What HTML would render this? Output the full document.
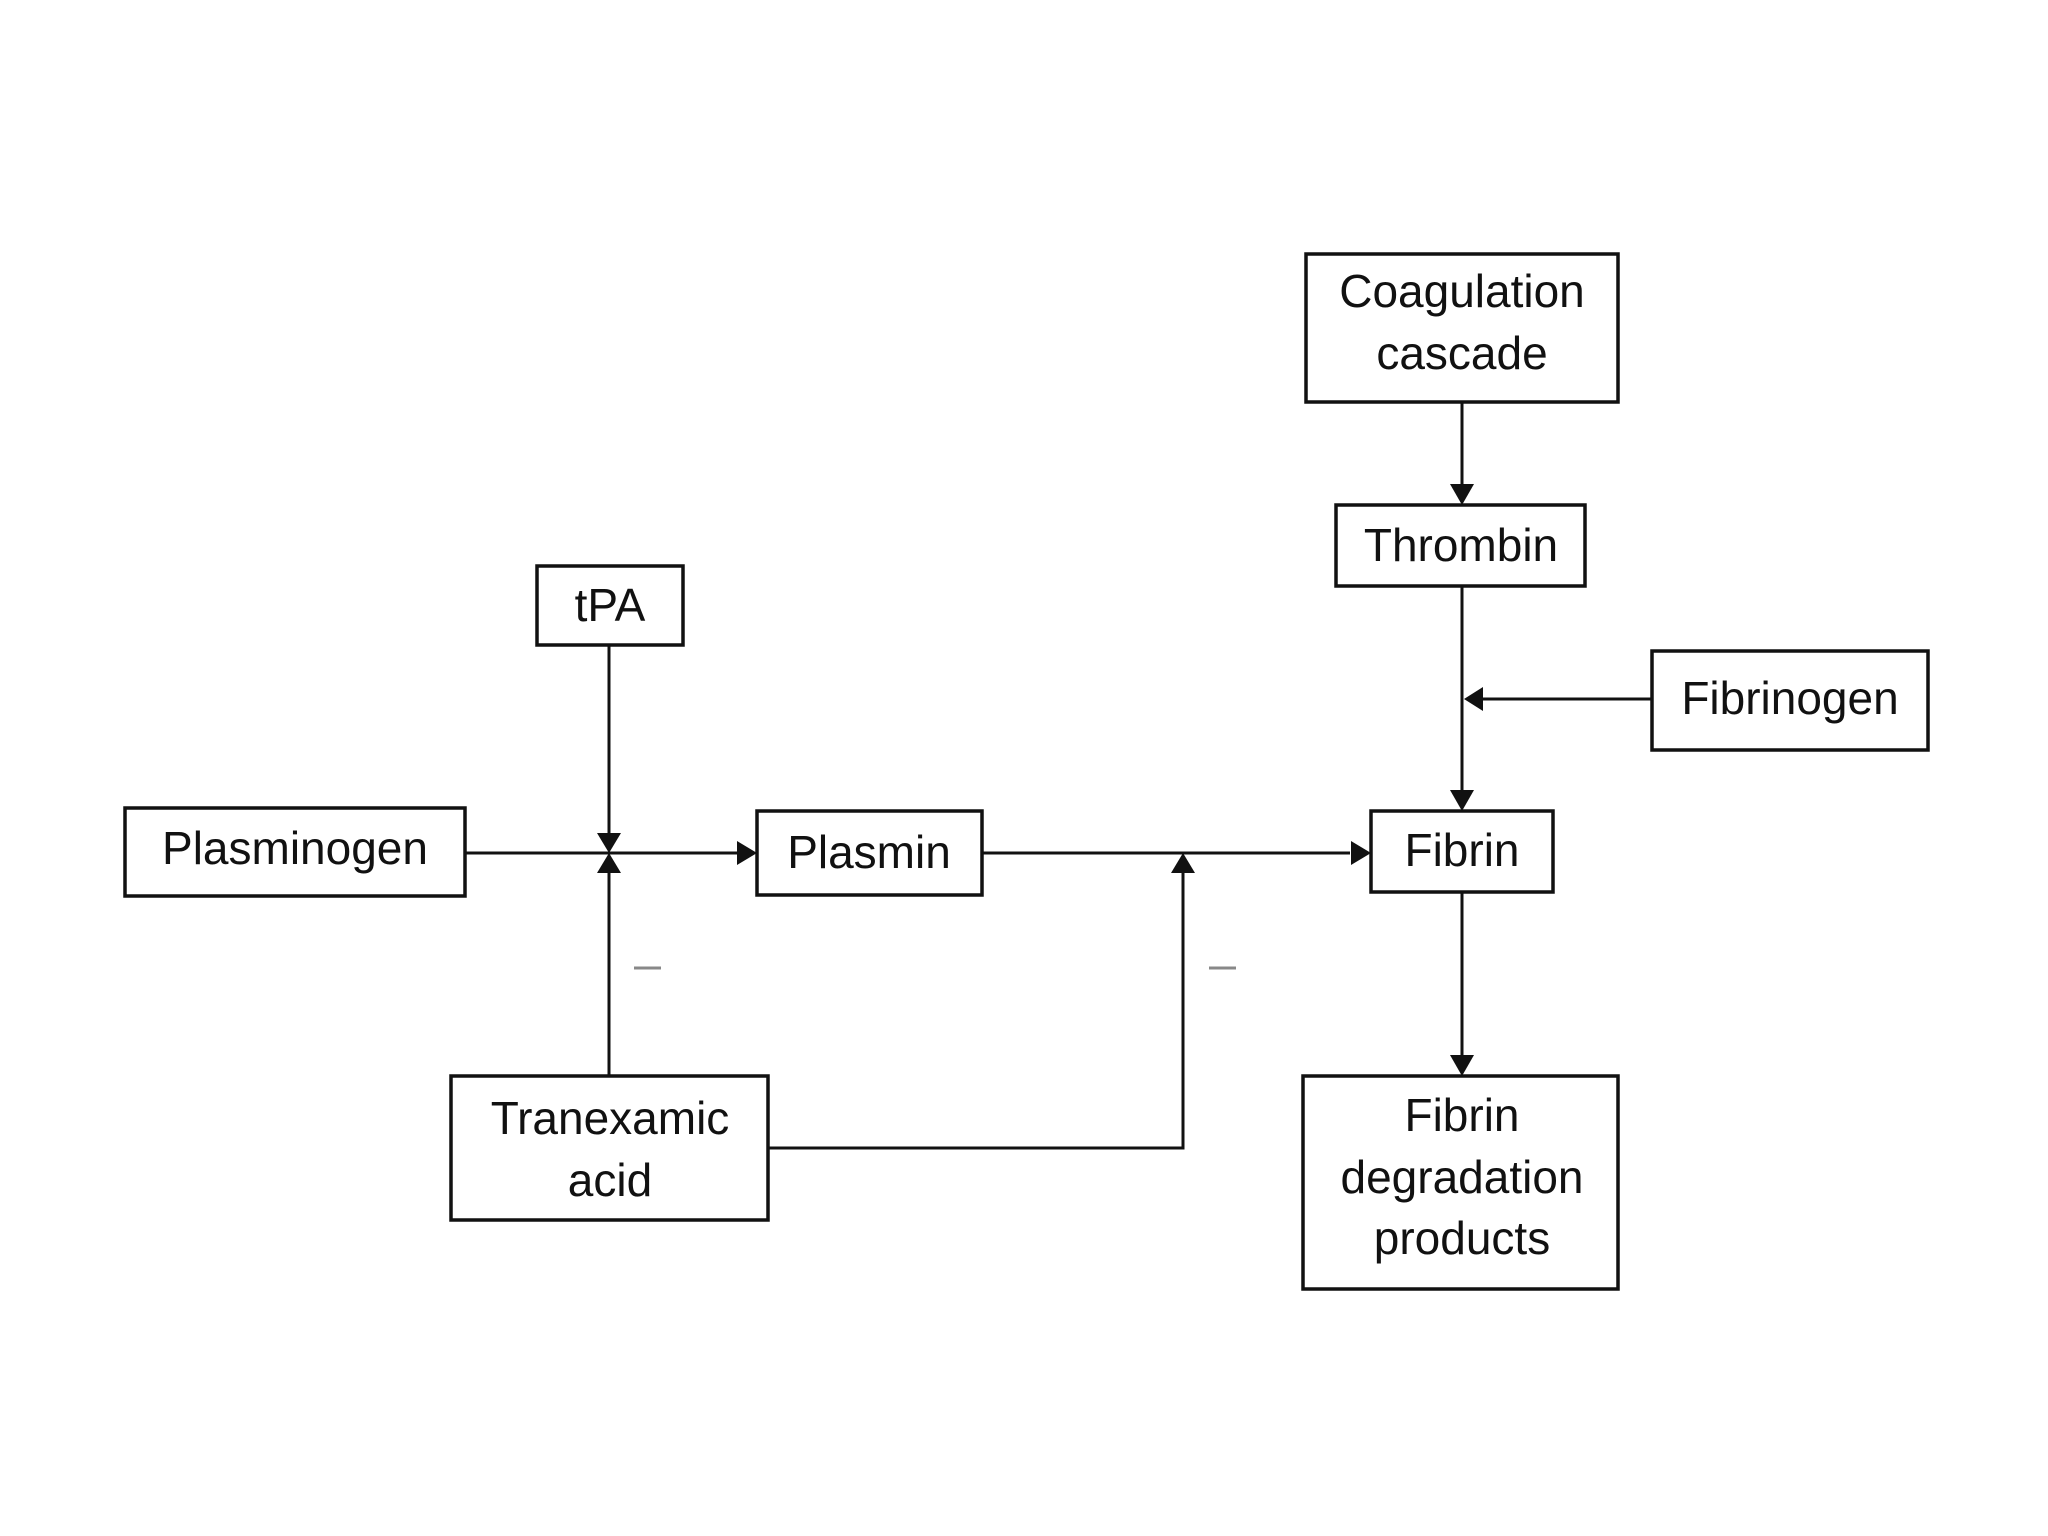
<!DOCTYPE html>
<html><head><meta charset="utf-8"><style>
html,body{margin:0;padding:0;background:#fff;}
svg{display:block}
text{font-family:"Liberation Sans",sans-serif;font-size:46px;fill:#111;text-anchor:middle;}
</style></head><body>
<svg width="2048" height="1536" viewBox="0 0 2048 1536" xmlns="http://www.w3.org/2000/svg">
<defs>
<marker id="a" markerWidth="8" markerHeight="8" refX="7" refY="4" orient="auto" markerUnits="userSpaceOnUse" viewBox="0 0 8 8"></marker>
</defs>
<g fill="none" stroke="#111" stroke-width="3.5">
<rect x="1306" y="254" width="312" height="148"/>
<rect x="1336" y="505" width="249" height="81"/>
<rect x="1652" y="651" width="276" height="99"/>
<rect x="537" y="566" width="146" height="79"/>
<rect x="125" y="808" width="340" height="88"/>
<rect x="757" y="811" width="225" height="84"/>
<rect x="1371" y="811" width="182" height="81"/>
<rect x="451" y="1076" width="317" height="144"/>
<rect x="1303" y="1076" width="315" height="213"/>
<g stroke-width="3">
<line x1="465" y1="853" x2="740" y2="853"/>
<line x1="982" y1="853" x2="1350" y2="853"/>
<line x1="609" y1="645" x2="609" y2="835"/>
<line x1="609" y1="1076" x2="609" y2="872"/>
<polyline points="768,1148 1183,1148 1183,872"/>
<line x1="1462" y1="402" x2="1462" y2="485"/>
<line x1="1462" y1="586" x2="1462" y2="790"/>
<line x1="1652" y1="699" x2="1482" y2="699"/>
<line x1="1462" y1="892" x2="1462" y2="1056"/>
</g>
</g>
<g fill="#111">
<polygon points="597,833 621,833 609,853"/>
<polygon points="597,873 621,873 609,853"/>
<polygon points="737,841 737,865 757,853"/>
<polygon points="1351,841 1351,865 1371,853"/>
<polygon points="1171,873 1195,873 1183,853"/>
<polygon points="1450,484 1474,484 1462,505"/>
<polygon points="1450,790 1474,790 1462,811"/>
<polygon points="1483,687 1483,711 1464,699"/>
<polygon points="1450,1055 1474,1055 1462,1076"/>
</g>
<g stroke="#888" stroke-width="3">
<line x1="634" y1="968" x2="661" y2="968"/>
<line x1="1209" y1="968" x2="1236" y2="968"/>
</g>
<text x="1462" y="307">Coagulation</text>
<text x="1462" y="369">cascade</text>
<text x="1461" y="561">Thrombin</text>
<text x="1790" y="714">Fibrinogen</text>
<text x="610" y="621">tPA</text>
<text x="295" y="864">Plasminogen</text>
<text x="869" y="868">Plasmin</text>
<text x="1462" y="866">Fibrin</text>
<text x="610" y="1134">Tranexamic</text>
<text x="610" y="1196">acid</text>
<text x="1462" y="1131">Fibrin</text>
<text x="1462" y="1193">degradation</text>
<text x="1462" y="1254">products</text>
</svg>
</body></html>
